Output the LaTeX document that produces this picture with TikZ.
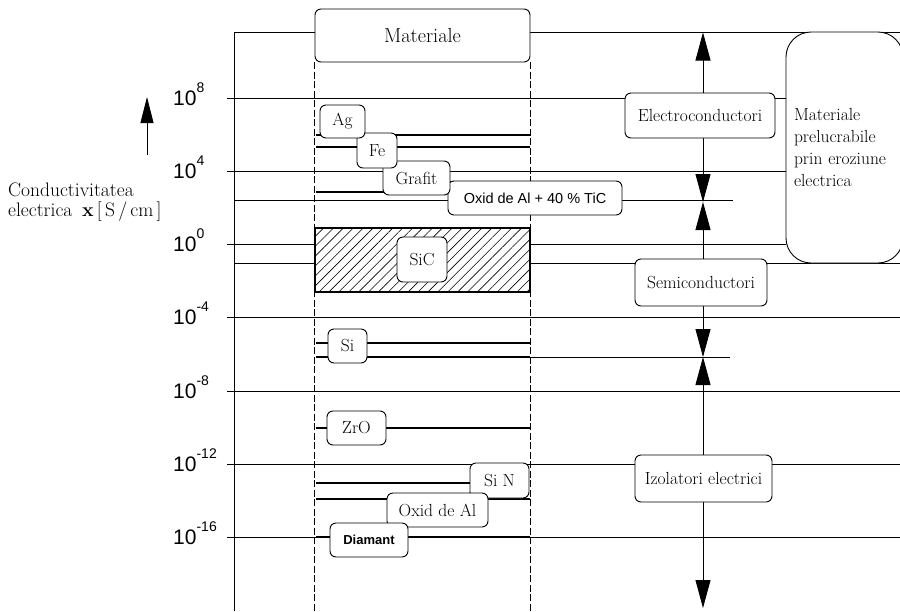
\documentclass[tikz,border=0pt]{standalone}
\usepackage{fontspec}
\newfontfamily\sansf{Liberation Sans}
\usetikzlibrary{arrows.meta,patterns.meta}

\tikzset{
  box/.style={draw, line width=0.9pt, rounded corners=6pt, fill=white, inner sep=0pt,
    font=\fontsize{17.5}{19}\selectfont},
  decade/.style={line width=0.7pt},
  matrange/.style={line width=1.6pt},
  column/.style={line width=0.6pt, dash pattern=on 7pt off 2.5pt},
  arr/.style={line width=0.8pt, -{Triangle[length=28pt,width=15pt]}},
  ticklabel/.style={anchor=base west, inner sep=0pt, font=\sansf\fontsize{21}{21}\selectfont},
}

\begin{document}
\begin{tikzpicture}[x=1pt,y=-1pt]
\useasboundingbox (0,0) rectangle (900,611);

% Axis and decades
\draw[line width=1pt] (234,32.5) -- (234,611);
\foreach \y/\e/\xe/\n in {98/8/786/d8, 171/4/786/d4, 244/0/786/d0, 317/-4/900/dm4,
    391/-8/900/dm8, 464/-12/900/dm12, 537/-16/900/dm16}{
  \draw[decade] (227,\y) -- (\xe,\y);
  \node[ticklabel] (\n) at (173,\y+7) {10\raisebox{13pt}{\fontsize{14}{14}\selectfont\e}};
}

% Other limits
\draw[decade] (234,32.5) -- (900,32.5);
\draw[decade] (234,200) -- (733,200);
\draw[decade] (234,263) -- (900,263);
\draw[decade] (530,357) -- (730,357);

% Ranges of the materials
\draw[matrange] (316,135) -- (530,135);
\draw[matrange] (316,147) -- (530,147);
\draw[matrange] (316,192) -- (450,192);
\draw[matrange] (383,182) -- (530,182);
\draw[matrange] (316,343) -- (530,343);
\draw[matrange] (316,357) -- (530,357);
\draw[matrange] (316,428) -- (530,428);
\draw[matrange] (316,483) -- (470,483);
\draw[matrange] (316,499) -- (530,499);
\draw[matrange] (316,537) -- (530,537);

% SiC band
\draw[line width=1.8pt, preaction={fill=white},
  pattern={Lines[angle=45,distance=7pt,line width=0.6pt]}] (315,228) rectangle (530,292);

% Column
\node[box, font=\fontsize{20.3}{22}\selectfont, minimum width=215pt, minimum height=53pt]
  (mat) at (422.5,35.5) {Materiale};
\draw[column] (mat.south west) -- ++(0,549);
\draw[column] (mat.south east) -- ++(0,549);

% Materials
\node[box, font=\sansf\fontsize{14.5}{16}\selectfont, minimum width=174pt, minimum height=34pt]
  (oxidtic) at (535,198) {Oxid de Al + 40 \% TiC};
\node[box, minimum width=67pt, minimum height=34pt] (grafit) at (416.5,178) {Grafit};
\node[box, minimum width=40pt, minimum height=35pt] (fe) at (377,150.5) {Fe};
\node[box, minimum width=45pt, minimum height=33pt] (ag) at (342.5,121.5) {Ag};
\node[box, minimum width=50pt, minimum height=45pt] (sic) at (422,259.5) {SiC};
\node[box, minimum width=39pt, minimum height=34pt] (si) at (347.5,346) {Si};
\node[box, minimum width=59pt, minimum height=34pt] (zro) at (356.5,428) {ZrO};
\node[box, minimum width=59pt, minimum height=35pt] (sin) at (499.5,480.5) {Si N};
\node[box, minimum width=101pt, minimum height=34pt] (oxidal) at (437.5,510) {Oxid de Al};
\node[box, font=\sansf\bfseries\fontsize{13}{15}\selectfont, minimum width=78pt, minimum height=34pt]
  (diam) at (369,540) {Diamant};

% Classes
\node[box, minimum width=150pt, minimum height=45pt] (elec) at (700,115.5) {Electroconductori};
\node[box, minimum width=132pt, minimum height=47pt] (semi) at (701,282.5) {Semiconductori};
\node[box, minimum width=137pt, minimum height=47pt] (izol) at (703.5,478.5) {Izolatori electrici};
\node[box, rounded corners=25pt, font=\fontsize{17.5}{21.7}\selectfont, minimum width=117pt,
  minimum height=231pt, text width=101pt, inner xsep=8pt, align=left]
  (prel) at (844.5,147.5) {Materiale\\prelucrabile\\prin eroziune\\electrica};

\coordinate (top) at (703,32.5);
\coordinate (mid1) at (703,202);
\coordinate (mid2) at (703,357);
\coordinate (bot) at (703,608);
\draw[arr] (elec.north -| top) -- (top);
\draw[arr] (elec.south -| top) -- (mid1);
\draw[arr] (semi.north -| top) -- (mid1);
\draw[arr] (semi.south -| top) -- (mid2);
\draw[arr] (izol.north -| top) -- (mid2);
\draw[arr] (izol.south -| top) -- (bot);

% Axis label
\coordinate (up0) at (147,155);
\coordinate (up1) at (147,97);
\draw[line width=0.8pt, -{Triangle[length=26pt,width=13pt]}] (up0) -- (up1);
\node[anchor=north west, inner sep=0pt, align=left, font=\fontsize{19.5}{20}\selectfont]
  (cond) at (8,183) {Conductivitatea\\electrica\enspace\textbf{x}\,[\,S\,/\,cm\,]};
\end{tikzpicture}
\end{document}
